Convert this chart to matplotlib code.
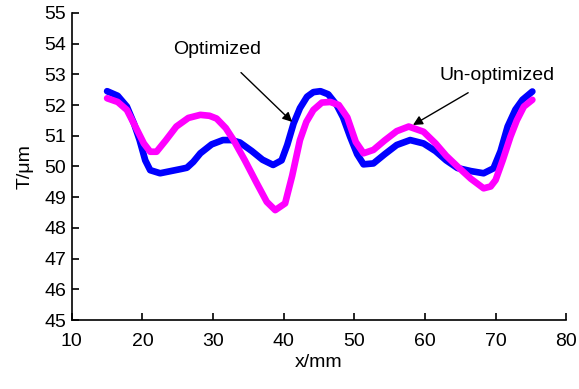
import matplotlib
matplotlib.use('Agg')
import matplotlib.pyplot as plt

plt.rcParams['font.family'] = ['Liberation Sans', 'DejaVu Sans']

# Optimized (blue)
opt_x = [15.0, 16.5, 17.8, 18.8, 19.6, 20.4, 21.1, 22.5, 24.0, 25.5, 26.3, 27.2,
         28.2, 29.8, 31.4, 32.6, 33.8, 35.5, 37.0, 38.5, 39.7, 40.5, 41.4, 42.3,
         43.3, 44.2, 45.2, 46.3, 47.5, 48.4, 49.4, 50.4, 51.3, 52.7, 54.3, 56.0,
         57.9, 59.8, 61.5, 63.0, 64.6, 66.5, 68.3, 69.7, 70.7, 71.7, 72.8, 73.8, 75.2]
opt_y = [52.45, 52.3, 51.95, 51.4, 50.86, 50.2, 49.88, 49.78, 49.85, 49.92, 49.96, 50.15,
         50.43, 50.72, 50.86, 50.86, 50.78, 50.5, 50.22, 50.05, 50.2, 50.7, 51.4, 51.9,
         52.27, 52.42, 52.45, 52.35, 52.0, 51.6, 50.97, 50.4, 50.07, 50.1, 50.4, 50.7,
         50.86, 50.75, 50.5, 50.2, 49.95, 49.85, 49.78, 49.94, 50.5, 51.3, 51.85, 52.17, 52.44]

# Un-optimized (magenta)
unopt_x = [15.0, 16.5, 17.8, 19.0, 20.2, 21.1, 22.0, 23.3, 24.8, 26.5, 28.2, 29.5,
           30.5, 31.8, 32.9, 34.5, 36.2, 37.6, 38.8, 40.2, 41.2, 42.3, 43.2, 44.2,
           45.4, 46.6, 47.8, 49.0, 50.2, 51.3, 52.7, 54.3, 56.0, 57.7, 59.8, 61.5,
           63.0, 64.6, 66.5, 68.3, 69.3, 70.0, 71.0, 72.1, 73.0, 74.0, 75.2]
unopt_y = [52.22, 52.1, 51.84, 51.3, 50.75, 50.48, 50.48, 50.85, 51.3, 51.58, 51.68, 51.65,
           51.56, 51.25, 50.86, 50.2, 49.45, 48.85, 48.58, 48.8, 49.7, 50.86, 51.45, 51.84,
           52.08, 52.1, 52.0, 51.6, 50.8, 50.43, 50.54, 50.85, 51.15, 51.3, 51.13, 50.75,
           50.35, 50.0, 49.6, 49.29, 49.35, 49.56, 50.2, 50.97, 51.5, 51.95, 52.17]

x_ticks = [10, 20, 30, 40, 50, 60, 70, 80]
y_ticks = [45, 46, 47, 48, 49, 50, 51, 52, 53, 54, 55]

fig = plt.figure(figsize=(5.79, 3.89), dpi=100)
ax = fig.add_axes([0.124, 0.177, 0.854, 0.79])

line_kw = dict(lw=4.8, solid_capstyle='round', solid_joinstyle='round')
ax.plot(opt_x, opt_y, color='#0000ff', **line_kw)
ax.plot(unopt_x, unopt_y, color='#ff00ff', **line_kw)

ax.set_xlim(10, 80)
ax.set_ylim(45, 55)
ax.set_xticks(x_ticks)
ax.set_yticks(y_ticks)
ax.spines['top'].set_visible(False)
ax.spines['right'].set_visible(False)
ax.spines['left'].set_linewidth(1.2)
ax.spines['bottom'].set_linewidth(1.2)
ax.tick_params(direction='in', length=5, width=1.2, labelsize=14)
ax.tick_params(axis='x', pad=9)
ax.tick_params(axis='y', pad=4)

ax.set_xlabel('x/mm', fontsize=14, labelpad=3)
ax.set_ylabel('T/μm', fontsize=14, labelpad=8)

ax.annotate('Optimized', xy=(41.2, 51.45), xytext=(30.6, 53.8),
            fontsize=14, ha='center', va='center',
            arrowprops=dict(arrowstyle='-|>', color='black', lw=1,
                            shrinkA=12, shrinkB=0, mutation_scale=14))
ax.annotate('Un-optimized', xy=(58.3, 51.35), xytext=(70.2, 52.95),
            fontsize=14, ha='center', va='center',
            arrowprops=dict(arrowstyle='-|>', color='black', lw=1,
                            shrinkA=8, shrinkB=0, mutation_scale=14))

fig.savefig('out.png', dpi=100)
